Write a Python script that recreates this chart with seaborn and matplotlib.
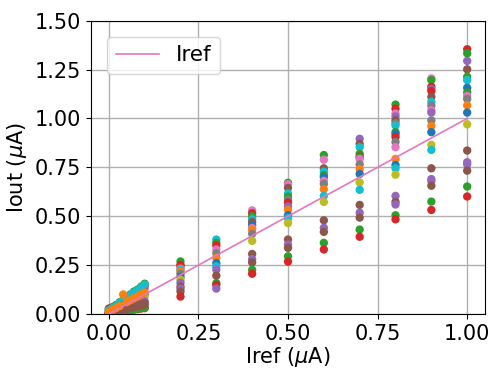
import pandas as pd
import matplotlib
matplotlib.use("Agg")
import matplotlib.pyplot as plt
import seaborn as sns

# Dense sweep 0 .. 0.1 uA (one list per sample)
dense_x = [0.00, 0.01, 0.02, 0.03, 0.04, 0.05, 0.06, 0.07, 0.08, 0.09, 0.10]
dense_cyan = [0.020, 0.030, 0.040, 0.055, 0.070, 0.080, 0.095, 0.110, 0.120, 0.135, 0.150]
dense_green = [0.020, 0.030, 0.045, 0.060, 0.070, 0.085, 0.100, 0.115, 0.125, 0.140, 0.155]
dense_red = [0.028, 0.035, 0.045, 0.055, 0.070, 0.080, 0.095, 0.105, 0.120, 0.130, 0.145]
dense_pink = [0.015, 0.025, 0.035, 0.050, 0.060, 0.070, 0.085, 0.095, 0.110, 0.120, 0.130]
dense_blue = [0.010, 0.018, 0.027, 0.036, 0.045, 0.055, 0.064, 0.073, 0.082, 0.090, 0.100]
dense_orange = [0.010, 0.020, 0.030, 0.040, 0.100, 0.060, 0.070, 0.080, 0.090, 0.100, 0.110]
dense_olive = [0.008, 0.016, 0.024, 0.032, 0.040, 0.048, 0.056, 0.064, 0.072, 0.080, 0.090]
dense_purple = [0.006, 0.012, 0.018, 0.024, 0.030, 0.036, 0.042, 0.048, 0.054, 0.060, 0.066]
dense_brown = [0.005, 0.010, 0.015, 0.020, 0.025, 0.030, 0.035, 0.040, 0.045, 0.050, 0.055]
dense_brown2 = [0.003, 0.008, 0.012, 0.017, 0.021, 0.025, 0.030, 0.034, 0.038, 0.043, 0.048]
dense_green2 = [0.003, 0.006, 0.009, 0.012, 0.015, 0.018, 0.021, 0.024, 0.027, 0.030, 0.033]
dense_red2 = [0.002, 0.005, 0.008, 0.010, 0.013, 0.016, 0.019, 0.022, 0.025, 0.028, 0.030]

# Coarse sweep 0.2 .. 1.0 uA, one list per Iref value (Iout, colour)
y_02 = [0.269, 0.252, 0.245, 0.232, 0.226, 0.217, 0.205, 0.190, 0.175, 0.160, 0.140, 0.130, 0.115, 0.089]
c_02 = ["green", "red", "red", "pink", "cyan", "orange", "gray", "blue", "olive", "purple", "brown", "purple", "brown", "red"]
y_03 = [0.381, 0.364, 0.350, 0.330, 0.310, 0.287, 0.260, 0.244, 0.227, 0.196, 0.158, 0.149, 0.130]
c_03 = ["cyan", "green", "red", "pink", "gray", "orange", "blue", "cyan", "purple", "brown", "green", "red", "purple"]
y_04 = [0.530, 0.515, 0.500, 0.485, 0.470, 0.455, 0.440, 0.430, 0.410, 0.374, 0.307, 0.280, 0.264, 0.226, 0.206]
c_04 = ["pink", "red", "green", "cyan", "brown", "blue", "pink", "orange", "gray", "olive", "brown", "purple", "brown", "green", "red"]
y_05 = [0.671, 0.664, 0.645, 0.616, 0.600, 0.585, 0.570, 0.550, 0.532, 0.505, 0.490, 0.465, 0.381, 0.355, 0.338, 0.295, 0.268]
c_05 = ["green", "pink", "brown", "cyan", "green", "gray", "red", "purple", "orange", "blue", "cyan", "olive", "brown", "purple", "brown", "green", "red"]
y_06 = [0.813, 0.789, 0.745, 0.728, 0.710, 0.700, 0.681, 0.665, 0.638, 0.604, 0.573, 0.479, 0.441, 0.420, 0.364, 0.330]
c_06 = ["green", "pink", "brown", "cyan", "green", "blue", "pink", "gray", "orange", "cyan", "olive", "brown", "purple", "brown", "green", "red"]
y_07 = [0.896, 0.870, 0.853, 0.819, 0.805, 0.800, 0.793, 0.765, 0.741, 0.716, 0.673, 0.635, 0.558, 0.518, 0.493, 0.432, 0.395]
c_07 = ["purple", "brown", "cyan", "green", "red", "green", "pink", "gray", "orange", "blue", "olive", "cyan", "brown", "purple", "brown", "green", "red"]
y_08 = [1.071, 1.050, 1.025, 1.010, 0.990, 0.975, 0.964, 0.930, 0.920, 0.905, 0.880, 0.853, 0.793, 0.762, 0.745, 0.712, 0.604, 0.573, 0.560, 0.505, 0.484]
c_08 = ["green", "red", "pink", "purple", "brown", "gray", "cyan", "green", "blue", "red", "gray", "pink", "orange", "blue", "cyan", "olive", "purple", "brown", "purple", "green", "red"]
y_09 = [1.205, 1.196, 1.162, 1.150, 1.140, 1.110, 1.085, 1.065, 1.042, 1.030, 0.990, 0.961, 0.930, 0.865, 0.839, 0.745, 0.690, 0.680, 0.656, 0.575, 0.532]
c_09 = ["pink", "green", "red", "purple", "red", "brown", "cyan", "gray", "pink", "purple", "gray", "orange", "blue", "olive", "cyan", "brown", "purple", "purple", "brown", "green", "red"]
y_10 = [1.354, 1.333, 1.294, 1.251, 1.213, 1.196, 1.157, 1.133, 1.115, 1.100, 1.067, 1.030, 0.970, 0.836, 0.776, 0.765, 0.733, 0.652, 0.601]
c_10 = ["red", "green", "purple", "brown", "green", "cyan", "blue", "green", "pink", "gray", "orange", "blue", "olive", "brown", "purple", "purple", "brown", "green", "red"]

iref_line = [0.0, 1.0]

# build long table
rows = []
dense = [("pink", dense_pink), ("red", dense_red), ("green", dense_green),
         ("cyan", dense_cyan), ("blue", dense_blue), ("olive", dense_olive),
         ("purple", dense_purple), ("red", dense_red2), ("green", dense_green2),
         ("brown", dense_brown2), ("brown", dense_brown), ("orange", dense_orange)]
for col, ys in dense:
    for x, y in zip(dense_x, ys):
        rows.append((x, y, col))

coarse = [(0.2, y_02, c_02), (0.3, y_03, c_03), (0.4, y_04, c_04), (0.5, y_05, c_05),
          (0.6, y_06, c_06), (0.7, y_07, c_07), (0.8, y_08, c_08), (0.9, y_09, c_09),
          (1.0, y_10, c_10)]
for x, ys, cs in coarse:
    for y, c in zip(ys, cs):
        rows.append((x, y, c))

df = pd.DataFrame(rows, columns=["Iref", "Iout", "color"])
palette = {c: "tab:" + c for c in df["color"].unique()}

plt.rcParams["font.size"] = 15
fig, ax = plt.subplots(figsize=(4.94, 3.69), dpi=100)
fig.subplots_adjust(left=0.184, right=0.982, top=0.944, bottom=0.149)

sns.scatterplot(data=df, x="Iref", y="Iout", hue="color", palette=palette,
                s=36, linewidth=0, legend=False, ax=ax)
sns.lineplot(x=iref_line, y=iref_line, color="tab:pink", lw=1.2, label="Iref",
             ax=ax, zorder=5)

ax.set_xlim(-0.05, 1.05)
ax.set_ylim(0, 1.5)
ax.set_xticks([0, 0.25, 0.5, 0.75, 1.0])
ax.set_yticks([0, 0.25, 0.5, 0.75, 1.0, 1.25, 1.5])
ax.grid(True, color="#b0b0b0", lw=1)
ax.set_axisbelow(True)
ax.set_xlabel("Iref ($\\mu$A)", labelpad=1)
ax.set_ylabel("Iout ($\\mu$A)")
ax.legend(loc="upper left", fontsize=15.5, borderaxespad=0.75)

plt.savefig("out.png")
